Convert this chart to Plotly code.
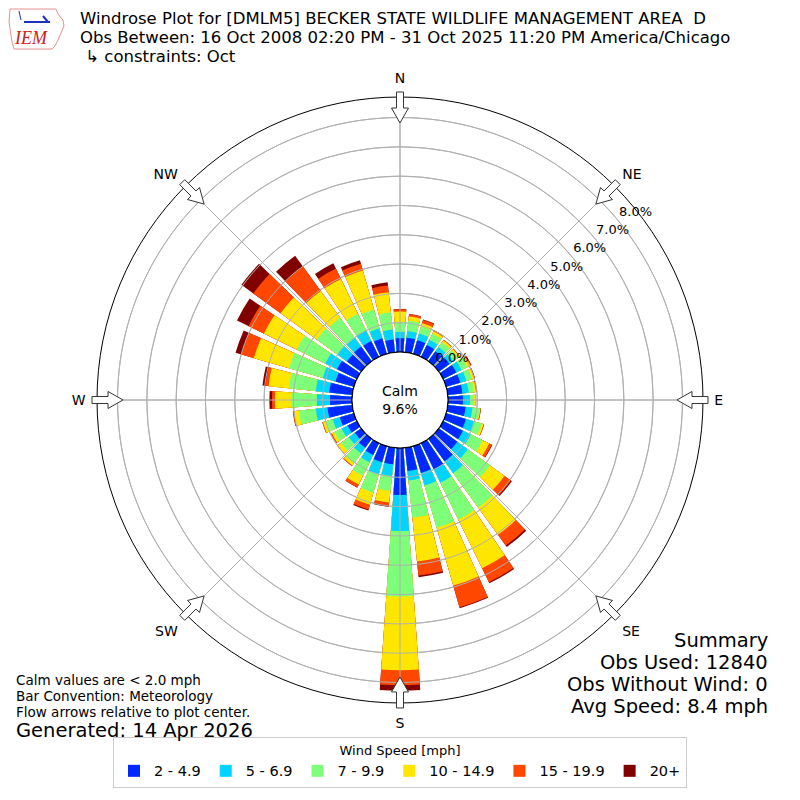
import math
import plotly.graph_objects as go


# direction bins (degrees clockwise from north)
directions = list(range(0, 360, 10))

# cumulative frequency (%) reached by each speed bin, per direction
upto_4_9 = [0.47, 0.50, 0.48, 0.45, 0.42, 0.45, 0.50, 0.50, 0.50, 0.51,
            0.61, 0.70, 0.75, 0.78, 0.95, 1.00, 0.95, 0.80, 1.60, 0.57,
            0.57, 0.45, 0.38, 0.27, 0.35, 0.50, 0.85, 0.75, 0.79, 0.65,
            0.75, 0.60, 0.62, 0.60, 0.55, 0.44]
upto_6_9 = [0.69, 0.73, 0.72, 0.65, 0.60, 0.62, 0.70, 0.72, 0.72, 0.75,
            0.85, 0.99, 1.05, 1.22, 1.45, 1.50, 1.40, 1.12, 2.83, 0.97,
            1.00, 0.73, 0.62, 0.52, 0.58, 0.75, 1.25, 1.20, 1.25, 1.10,
            1.20, 1.01, 0.98, 1.00, 0.90, 0.78]
upto_9_9 = [1.03, 1.08, 0.97, 0.88, 0.80, 0.80, 0.92, 0.92, 0.90, 0.88,
            1.09, 1.26, 1.50, 2.16, 2.90, 2.90, 2.90, 2.40, 5.07, 1.48,
            1.65, 1.24, 1.02, 0.85, 0.85, 1.00, 1.83, 2.06, 2.17, 2.30,
            2.28, 1.87, 1.83, 1.64, 1.57, 1.37]
upto_14_9 = [1.38, 1.23, 1.09, 0.97, 0.88, 0.87, 1.03, 0.99, 0.97, 0.95,
             1.12, 1.33, 1.75, 2.77, 4.05, 4.75, 4.95, 3.90, 7.58, 1.88,
             2.08, 1.57, 1.12, 1.00, 0.95, 1.10, 2.00, 2.63, 2.87, 3.55,
             3.53, 3.40, 2.96, 2.96, 2.96, 2.06]
upto_19_9 = [1.46, 1.30, 1.20, 1.00, 0.90, 0.89, 1.07, 1.02, 1.00, 0.96,
             1.14, 1.35, 1.85, 3.04, 4.50, 5.28, 5.72, 4.38, 8.09, 2.00,
             2.25, 1.68, 1.15, 1.01, 0.98, 1.12, 2.03, 2.73, 2.98, 4.00,
             4.11, 4.55, 4.00, 3.35, 3.20, 2.29]
upto_all = [1.47, 1.31, 1.22, 1.01, 0.90, 0.89, 1.08, 1.03, 1.00, 0.96,
            1.14, 1.35, 1.87, 3.08, 4.56, 5.32, 5.75, 4.44, 8.28, 2.03,
            2.28, 1.69, 1.15, 1.01, 0.98, 1.12, 2.04, 2.82, 3.08, 4.20,
            4.55, 5.05, 4.45, 3.55, 3.32, 2.40]

speed_labels = ['2 - 4.9', '5 - 6.9', '7 - 9.9', '10 - 14.9', '15 - 19.9', '20+']
speed_colors = ['#0029ff', '#00d4ff', '#7dff7a', '#ffe600', '#ff4700', '#800000']

compass_vals = [0, 45, 90, 135, 180, 225, 270, 315]
compass_text = ['N', 'NE', 'E', 'SE', 'S', 'SW', 'W', 'NW']

calm_pct = 9.6
rmax = 8.7
ring_vals = [0, 1, 2, 3, 4, 5, 6, 7, 8]

FONT = 'DejaVu Sans'
GRID = '#b0b0b0'

# page has an 8px body margin, so the figure is 792 wide starting at 8px
OFF, SIZE = 8, 792


def px2x(px):
    return (px - OFF) / SIZE


def py2y(py):
    return 1 - (py - OFF) / SIZE


series = [upto_4_9, upto_6_9, upto_9_9, upto_14_9, upto_19_9, upto_all]

fig = go.Figure()

# overlay: largest reach first so the smaller bins paint over it
for k in range(5, -1, -1):
    fig.add_trace(go.Barpolar(
        r=series[k],
        theta=directions,
        width=8,
        name=speed_labels[k],
        legendrank=k + 1,
        marker=dict(color=speed_colors[k], line=dict(width=0)),
    ))

# grid drawn over the bars
ring_t, ring_r = [], []
for v in ring_vals[1:]:
    ring_t += list(range(0, 361, 2)) + [None]
    ring_r += [v] * 181 + [None]
fig.add_trace(go.Scatterpolar(r=ring_r, theta=ring_t, mode='lines',
                              line=dict(color=GRID, width=1),
                              showlegend=False, hoverinfo='skip'))
spoke_t, spoke_r = [], []
for a in compass_vals:
    spoke_t += [a, a, None]
    spoke_r += [0, rmax, None]
fig.add_trace(go.Scatterpolar(r=spoke_r, theta=spoke_t, mode='lines',
                              line=dict(color=GRID, width=1),
                              showlegend=False, hoverinfo='skip'))
# calm circle outline
fig.add_trace(go.Scatterpolar(r=[0] * 181, theta=list(range(0, 361, 2)),
                              mode='lines', line=dict(color='black', width=1.2),
                              showlegend=False, hoverinfo='skip'))
# radial tick labels, sitting a bit outside each ring
fig.add_trace(go.Scatterpolar(r=[v + 0.63 for v in ring_vals], theta=[51.5] * len(ring_vals),
                              mode='text', text=['%.1f%%' % v for v in ring_vals],
                              textfont=dict(size=13, family=FONT, color='black'),
                              cliponaxis=False, showlegend=False, hoverinfo='skip'))


# flow arrows on the rim (pixel geometry -> paper coords)
CX, CY, R = 400, 400, 303
shapes = []
for a in compass_vals:
    t = math.radians(a)
    ux, uy = math.sin(t), -math.cos(t)
    vx, vy = math.cos(t), math.sin(t)

    def pt(rr, off):
        px = CX + ux * rr + vx * off
        py = CY + uy * rr + vy * off
        return '%.4f,%.4f' % (px2x(px), py2y(py))

    path = ('M ' + pt(R + 5, -3.5) + ' L ' + pt(R - 11, -3.5) + ' L ' + pt(R - 11, -8.5) +
            ' L ' + pt(R - 26, 0) + ' L ' + pt(R - 11, 8.5) + ' L ' + pt(R - 11, 3.5) +
            ' L ' + pt(R + 5, 3.5) + ' Z')
    shapes.append(dict(type='path', xref='paper', yref='paper', path=path,
                       fillcolor='white', line=dict(color='#333333', width=1)))

# rough IEM logo: state outline and a small blue plane
logo = [(10, 9), (56, 9), (58, 14), (63, 20), (64, 26), (61, 33), (58, 40),
        (55, 46), (52, 49), (14, 49), (12, 42), (9, 22)]
shapes.append(dict(type='path', xref='paper', yref='paper',
                   path='M ' + ' L '.join('%.4f,%.4f' % (px2x(x), py2y(y)) for x, y in logo) + ' Z',
                   fillcolor='white', line=dict(color='#e89090', width=1)))
shapes.append(dict(type='line', xref='paper', yref='paper', x0=px2x(24), x1=px2x(50),
                   y0=py2y(22), y1=py2y(22), line=dict(color='#2030c0', width=2)))
shapes.append(dict(type='line', xref='paper', yref='paper', x0=px2x(43), x1=px2x(48),
                   y0=py2y(16), y1=py2y(22), line=dict(color='#2030c0', width=2)))
shapes.append(dict(type='line', xref='paper', yref='paper', x0=px2x(19), x1=px2x(21),
                   y0=py2y(11), y1=py2y(20), line=dict(color='#2030c0', width=1)))


annotations = [
    dict(text='Calm<br>%.1f%%' % calm_pct, x=px2x(400), y=py2y(400), showarrow=False,
         xanchor='center', yanchor='middle',
         font=dict(size=14, family=FONT, color='black')),
    dict(text='<i>IEM</i>', x=px2x(31), y=py2y(38), showarrow=False,
         xanchor='center', yanchor='middle',
         font=dict(size=18, family='Liberation Serif', color='#d02020')),
]

title_lines = [
    ('Windrose Plot for [DMLM5] BECKER STATE WILDLIFE MANAGEMENT AREA  D', 19),
    ('Obs Between: 16 Oct 2008 02:20 PM - 31 Oct 2025 11:20 PM America/Chicago', 38),
    (' ↳ constraints: Oct', 57),
]
for txt, py in title_lines:
    annotations.append(dict(text=txt, x=px2x(78), y=py2y(py), xanchor='left',
                            yanchor='middle', showarrow=False,
                            font=dict(size=16.5, family=FONT, color='black')))

summary_lines = [('Summary', 640), ('Obs Used: 12840', 662),
                 ('Obs Without Wind: 0', 684), ('Avg Speed: 8.4 mph', 706)]
for txt, py in summary_lines:
    annotations.append(dict(text=txt, x=px2x(770), y=py2y(py), xanchor='right',
                            yanchor='middle', showarrow=False,
                            font=dict(size=19.5, family=FONT, color='black')))

note_lines = [('Calm values are < 2.0 mph', 680), ('Bar Convention: Meteorology', 696),
              ('Flow arrows relative to plot center.', 712)]
for txt, py in note_lines:
    annotations.append(dict(text=txt, x=px2x(14), y=py2y(py), xanchor='left',
                            yanchor='middle', showarrow=False,
                            font=dict(size=13.5, family=FONT, color='black')))
annotations.append(dict(text='Generated: 14 Apr 2026', x=px2x(14), y=py2y(730),
                        xanchor='left', yanchor='middle', showarrow=False,
                        font=dict(size=19.5, family=FONT, color='black')))


fig.update_layout(
    width=SIZE,
    height=SIZE,
    margin=dict(l=0, r=0, t=0, b=0),
    paper_bgcolor='white',
    font=dict(family=FONT, size=13, color='black'),
    polar=dict(
        domain=dict(x=[px2x(97), px2x(703)], y=[py2y(703), py2y(97)]),
        hole=48 / 303,
        barmode='overlay',
        bgcolor='white',
        angularaxis=dict(
            rotation=90,
            direction='clockwise',
            tickmode='array',
            tickvals=compass_vals,
            ticktext=compass_text,
            ticks='outside',
            ticklen=8,
            tickcolor='rgba(0,0,0,0)',
            showline=True,
            linecolor='black',
            linewidth=1,
            gridcolor=GRID,
            tickfont=dict(size=14, family=FONT),
        ),
        radialaxis=dict(
            range=[0, rmax],
            tickmode='array',
            tickvals=ring_vals,
            showticklabels=False,
            showline=False,
            ticks='',
            gridcolor=GRID,
        ),
    ),
    legend=dict(
        orientation='h',
        x=px2x(400),
        xanchor='center',
        y=py2y(788),
        yanchor='bottom',
        bordercolor='#cccccc',
        borderwidth=1,
        font=dict(size=14.5, family=FONT),
        title=dict(text='Wind Speed [mph]', side='top center', font=dict(size=13, family=FONT)),
        itemwidth=30,
    ),
    shapes=shapes,
    annotations=annotations,
)

fig.write_html('out.html')
